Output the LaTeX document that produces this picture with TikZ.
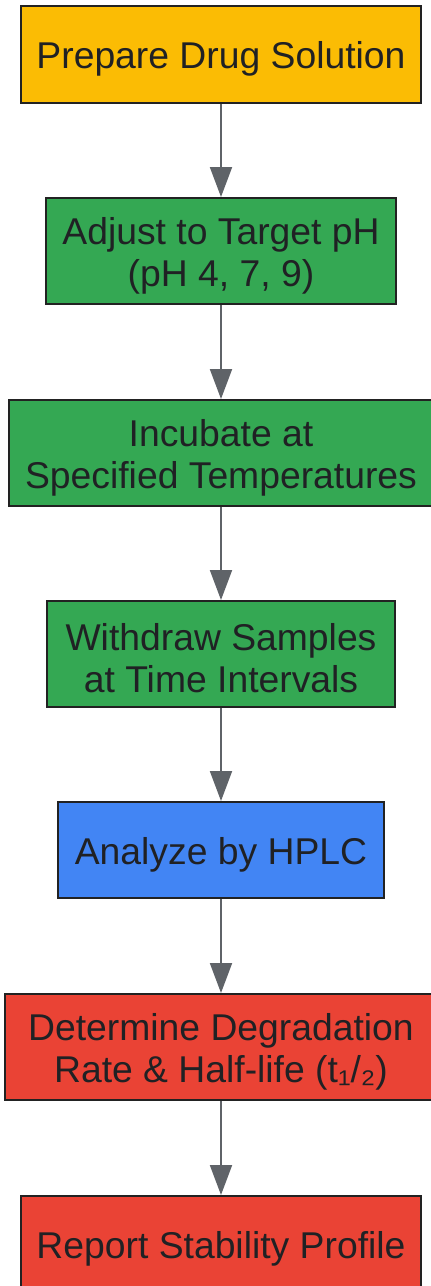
\documentclass[tikz,border=0pt]{standalone}
\usepackage{fontspec}
\setmainfont{Liberation Sans}
\usetikzlibrary{arrows.meta}
\definecolor{cyel}{HTML}{FBBC04}
\definecolor{cgrn}{HTML}{34A853}
\definecolor{cblu}{HTML}{4285F4}
\definecolor{cred}{HTML}{EA4335}
\definecolor{cbrd}{HTML}{222222}
\definecolor{ctxt}{HTML}{202124}
\definecolor{carr}{HTML}{5F6368}
\begin{document}
\begin{tikzpicture}[x=1pt,y=-1pt,
  stepbox/.style={draw=cbrd, line width=2pt, inner sep=0pt},
  txt/.style={inner sep=0pt, align=center, text=ctxt, yshift=-4.5pt,
    font=\fontsize{37.3}{42}\selectfont},
  flow/.style={draw=carr, line width=2pt, -{Triangle[width=22pt,length=30pt]}}]
\useasboundingbox (0,0) rectangle (431,1286);
\clip (0,0) rectangle (431,1286);
\node[stepbox, fill=cyel, minimum width=400pt, minimum height=97pt,
  label={[txt]center:Prepare Drug Solution}] (a) at (221,54.5) {};
\node[stepbox, fill=cgrn, minimum width=350pt, minimum height=106pt,
  label={[txt]center:{Adjust to Target pH\\(pH 4, 7, 9)}}] (b) at (221,251) {};
\node[stepbox, fill=cgrn, minimum width=424pt, minimum height=106pt,
  label={[txt]center:{Incubate at\\Specified Temperatures}}] (c) at (221,453) {};
\node[stepbox, fill=cgrn, minimum width=348pt, minimum height=106pt,
  label={[txt]center:{Withdraw Samples\\at Time Intervals}}] (d) at (221,654) {};
\node[stepbox, fill=cblu, minimum width=326pt, minimum height=96pt,
  label={[txt]center:Analyze by HPLC}] (e) at (221,850) {};
\node[stepbox, fill=cred, minimum width=432pt, minimum height=106pt,
  label={[txt]center:{Determine Degradation\\Rate \& Half-life (t₁/₂)}}] (f) at (221,1047) {};
\node[stepbox, fill=cred, minimum width=400pt, minimum height=97pt,
  label={[txt]center:Report Stability Profile}] (g) at (221,1244.5) {};
\draw[flow] (a.south) -- (b.north);
\draw[flow] (b.south) -- (c.north);
\draw[flow] (c.south) -- (d.north);
\draw[flow] (d.south) -- (e.north);
\draw[flow] (e.south) -- (f.north);
\draw[flow] (f.south) -- (g.north);
\end{tikzpicture}
\end{document}
